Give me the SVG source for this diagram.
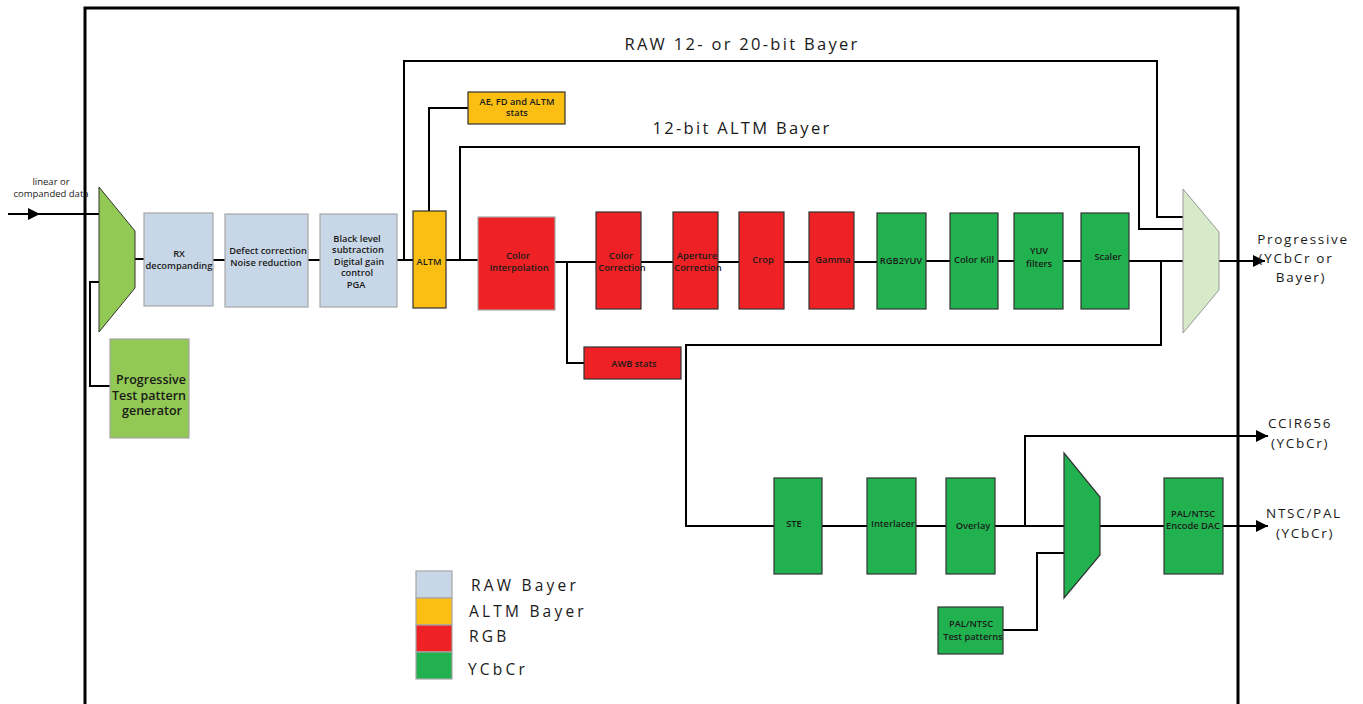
<svg xmlns="http://www.w3.org/2000/svg" width="1363" height="704" viewBox="0 0 1363 704">
<defs>
<style>
.ln{fill:none;stroke:#000;stroke-width:2}
.fr{fill:none;stroke:#000;stroke-width:3}
.raw{fill:#C8D7E7;stroke:#A6A6A6;stroke-width:1.2}
.altm{fill:#FBBF13;stroke:#333;stroke-width:1.2}
.rgb{fill:#EE2225;stroke:#333;stroke-width:1.2}
.rgbg{fill:#EE2225;stroke:#A6A6A6;stroke-width:1.2}
.ycc{fill:#21B24F;stroke:#333;stroke-width:1.2}
.lg{fill:#92C954;stroke:#A6A6A6;stroke-width:1.2}
.lgm{fill:#92C954;stroke:#333;stroke-width:1}
.pg{fill:#D6E9C8;stroke:#999;stroke-width:1}
.leg{stroke:#A6A6A6;stroke-width:1.2}
text{font-family:"Open Sans","Liberation Sans",sans-serif;fill:#1a1a1a;text-anchor:middle}
.s{font-size:9.3px;font-weight:600}
.m{font-size:12.5px;font-weight:600}
.t{font-size:16.5px;letter-spacing:2.3px}
.o{font-size:13.5px;letter-spacing:1.7px}
.l{font-size:15.5px;letter-spacing:3.2px;text-anchor:start}
.in{font-size:9.5px}
</style>
<marker id="ah" viewBox="0 0 12 12" refX="12" refY="6" markerWidth="12" markerHeight="12" markerUnits="userSpaceOnUse" orient="auto">
<path d="M0,0 L12,6 L0,12 Z" fill="#000"/>
</marker>
</defs>
<rect width="1363" height="704" fill="#fff"/>

<!-- frame -->
<path class="fr" d="M85,704 V8 H1238 V704"/>

<g id="connectors">
<path class="ln" d="M8,214 H99"/>
<path d="M28,208 L40,214 L28,220 Z" fill="#000"/>
<path class="ln" d="M99,282 H90 V386 H110"/>
<path class="ln" d="M135,259 H144"/>
<path class="ln" d="M213,260 H225"/>
<path class="ln" d="M308,260 H320"/>
<path class="ln" d="M397,260 H413"/>
<path class="ln" d="M446,260 H478"/>
<path class="ln" d="M555,262 H596"/>
<path class="ln" d="M641,262 H673"/>
<path class="ln" d="M718,262 H739"/>
<path class="ln" d="M784,262 H809"/>
<path class="ln" d="M854,262 H877"/>
<path class="ln" d="M926,261 H950"/>
<path class="ln" d="M998,261 H1014"/>
<path class="ln" d="M1063,261 H1081"/>
<path class="ln" d="M1129,261 H1183"/>
<path class="ln" d="M404,260 V61 H1157 V217 H1183"/>
<path class="ln" d="M429,211 V108 H468"/>
<path class="ln" d="M460,260 V147 H1139 V229 H1183"/>
<path class="ln" d="M567,262 V363 H584"/>
<path class="ln" d="M1219,261 H1265" marker-end="url(#ah)"/>
<path class="ln" d="M1161,261 V345 H686 V526 H774"/>
<path class="ln" d="M822,526 H867"/>
<path class="ln" d="M916,526 H946"/>
<path class="ln" d="M995,526 H1064"/>
<path class="ln" d="M1025,526 V436 H1268" marker-end="url(#ah)"/>
<path class="ln" d="M1100,526 H1164"/>
<path class="ln" d="M1223,526 H1268" marker-end="url(#ah)"/>
<path class="ln" d="M1003,630 H1037 V553 H1064"/>
</g>

<g id="input-label">
<text class="in" x="51" y="185">linear or</text>
<text class="in" x="51" y="197">companded data</text>
</g>

<g id="mux-in"><path class="lgm" d="M99,187 L135,231 L135,288 L99,332 Z"/></g>

<g id="test-pattern-gen">
<rect class="lg" x="110" y="339" width="79" height="99"/>
<text class="m" x="151" y="384">Progressive</text>
<text class="m" x="149" y="400">Test pattern</text>
<text class="m" x="152" y="415">generator</text>
</g>

<g id="rx">
<rect class="raw" x="144" y="213" width="69" height="93"/>
<text class="s" x="179" y="257">RX</text>
<text class="s" x="179" y="269">decompanding</text>
</g>

<g id="defect">
<rect class="raw" x="225" y="214" width="83" height="93"/>
<text class="s" x="268" y="254">Defect correction</text>
<text class="s" x="266" y="266">Noise reduction</text>
</g>

<g id="blacklevel">
<rect class="raw" x="320" y="214" width="77" height="93"/>
<text class="s" x="357" y="242">Black level</text>
<text class="s" x="358" y="253">subtraction</text>
<text class="s" x="359" y="265">Digital gain</text>
<text class="s" x="357" y="276">control</text>
<text class="s" x="356" y="288">PGA</text>
</g>

<g id="altm">
<rect class="altm" x="413" y="211" width="33" height="97"/>
<text class="s" x="429" y="265">ALTM</text>
</g>

<g id="ae-stats">
<rect class="altm" x="468" y="92" width="97" height="32"/>
<text class="s" x="517" y="105">AE, FD and ALTM</text>
<text class="s" x="517" y="116">stats</text>
</g>

<g id="color-interp">
<rect class="rgbg" x="478" y="217" width="77" height="93"/>
<text class="s" x="518" y="259">Color</text>
<text class="s" x="519" y="271">Interpolation</text>
</g>

<g id="awb">
<rect class="rgb" x="584" y="347" width="97" height="32"/>
<text class="s" x="634" y="367">AWB stats</text>
</g>

<g id="color-corr">
<rect class="rgb" x="596" y="212" width="45" height="97"/>
<text class="s" x="621" y="259">Color</text>
<text class="s" x="622" y="271">Correction</text>
</g>

<g id="aperture">
<rect class="rgb" x="673" y="212" width="45" height="97"/>
<text class="s" x="697" y="259">Aperture</text>
<text class="s" x="698" y="271">Correction</text>
</g>

<g id="crop">
<rect class="rgb" x="739" y="212" width="45" height="97"/>
<text class="s" x="763" y="263">Crop</text>
</g>

<g id="gamma">
<rect class="rgb" x="809" y="212" width="45" height="97"/>
<text class="s" x="833" y="263">Gamma</text>
</g>

<g id="rgb2yuv">
<rect class="ycc" x="877" y="213" width="49" height="96"/>
<text class="s" x="901" y="264">RGB2YUV</text>
</g>

<g id="colorkill">
<rect class="ycc" x="950" y="213" width="48" height="96"/>
<text class="s" x="974" y="263">Color Kill</text>
</g>

<g id="yuvfilters">
<rect class="ycc" x="1014" y="213" width="49" height="96"/>
<text class="s" x="1039" y="254">YUV</text>
<text class="s" x="1039" y="267">filters</text>
</g>

<g id="scaler">
<rect class="ycc" x="1081" y="213" width="48" height="96"/>
<text class="s" x="1108" y="260">Scaler</text>
</g>

<g id="mux-out"><path class="pg" d="M1183,189 L1219,232 L1219,290 L1183,333 Z"/></g>

<g id="titles">
<text class="t" x="742" y="50">RAW 12- or 20-bit Bayer</text>
<text class="t" x="742" y="134">12-bit ALTM Bayer</text>
</g>

<g id="out-labels">
<text class="o" x="1303" y="244">Progressive</text>
<text class="o" x="1296" y="263">(YCbCr or</text>
<text class="o" x="1301" y="282">Bayer)</text>
<text class="o" x="1300" y="428">CCIR656</text>
<text class="o" x="1300" y="448">(YCbCr)</text>
<text class="o" x="1304" y="518">NTSC/PAL</text>
<text class="o" x="1305" y="538">(YCbCr)</text>
</g>

<g id="ste">
<rect class="ycc" x="774" y="478" width="48" height="96"/>
<text class="s" x="794" y="527">STE</text>
</g>

<g id="interlacer">
<rect class="ycc" x="867" y="478" width="49" height="96"/>
<text class="s" x="893" y="527">Interlacer</text>
</g>

<g id="overlay">
<rect class="ycc" x="946" y="478" width="49" height="96"/>
<text class="s" x="973" y="529">Overlay</text>
</g>

<g id="mux-tv"><path class="ycc" d="M1064,453 L1100,497 L1100,555 L1064,598 Z"/></g>

<g id="encode-dac">
<rect class="ycc" x="1164" y="478" width="59" height="96"/>
<text class="s" x="1193" y="517">PAL/NTSC</text>
<text class="s" x="1193" y="529">Encode DAC</text>
</g>

<g id="tv-patterns">
<rect class="ycc" x="938" y="607" width="65" height="47"/>
<text class="s" x="971" y="627">PAL/NTSC</text>
<text class="s" x="973" y="640">Test patterns</text>
</g>

<g id="legend">
<rect class="leg" x="416" y="571" width="36" height="27" fill="#C8D7E7"/>
<rect class="leg" x="416" y="598" width="36" height="27" fill="#FBBF13"/>
<rect class="leg" x="416" y="625" width="36" height="27" fill="#EE2225"/>
<rect class="leg" x="416" y="652" width="36" height="27" fill="#21B24F"/>
<text class="l" x="471" y="591">RAW Bayer</text>
<text class="l" x="469" y="617">ALTM Bayer</text>
<text class="l" x="469" y="642">RGB</text>
<text class="l" x="468" y="675">YCbCr</text>
</g>
</svg>
